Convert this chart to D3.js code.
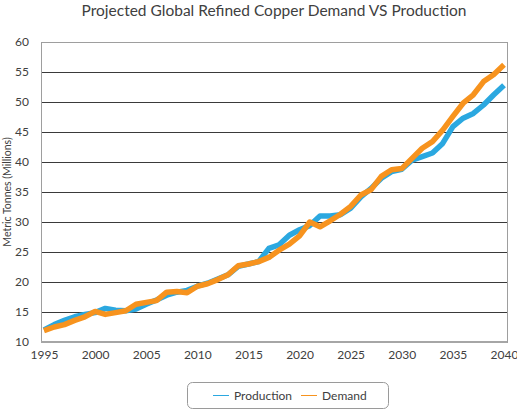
<!DOCTYPE html>
<html>
<head>
<meta charset="utf-8">
<script src="https://cdn.jsdelivr.net/npm/d3@7"></script>
<style>
  html, body { margin: 0; padding: 0; background: #fff; }
  svg { display: block; font-family: Lato, "Open Sans", sans-serif; }
</style>
</head>
<body>
<svg id="chart" width="517" height="410"></svg>
<script>
const years = d3.range(1995, 2041);
const production = [12.0, 12.9, 13.6, 14.2, 14.6, 14.9, 15.6, 15.3, 15.2, 15.5,
  16.3, 17.0, 17.8, 18.3, 18.6, 19.3, 19.8, 20.5, 21.2, 22.6,
  23.0, 23.4, 25.6, 26.2, 27.8, 28.7, 29.4, 31.0, 31.0, 31.2,
  32.3, 34.2, 35.6, 37.3, 38.4, 38.8, 40.3, 40.9, 41.5, 43.1,
  45.9, 47.3, 48.1, 49.5, 51.2, 52.8];
const demand = [11.9, 12.5, 12.9, 13.6, 14.2, 15.1, 14.6, 14.9, 15.2, 16.3,
  16.6, 16.9, 18.3, 18.4, 18.2, 19.3, 19.7, 20.4, 21.2, 22.7,
  23.0, 23.4, 24.1, 25.3, 26.3, 27.7, 30.0, 29.2, 30.2, 31.3,
  32.6, 34.5, 35.4, 37.6, 38.7, 38.9, 40.6, 42.3, 43.4, 45.3,
  47.6, 49.8, 51.2, 53.4, 54.6, 56.2];
const xTicks = [1995, 2000, 2005, 2010, 2015, 2020, 2025, 2030, 2035, 2040];
const yTicks = [10, 15, 20, 25, 30, 35, 40, 45, 50, 55, 60];
const seriesNames = ["Production", "Demand"];
const seriesColors = ["#2BA8E0", "#F7931E"];

const svg = d3.select("#chart");
const plot = { left: 41, right: 507, top: 42, bottom: 342 };

const x = d3.scaleLinear().domain([1995, 2040]).range([44, 504]);
const y = d3.scaleLinear().domain([10, 60]).range([plot.bottom, plot.top]);

// title
svg.append("text")
  .attr("x", 274).attr("y", 16)
  .attr("text-anchor", "middle")
  .attr("font-size", 15.5)
  .attr("fill", "#404040")
  .text("Projected Global Refined Copper Demand VS Production");

// gridlines
svg.append("g")
  .selectAll("line")
  .data(yTicks.filter(d => d > 10 && d < 60))
  .join("line")
  .attr("x1", plot.left).attr("x2", plot.right)
  .attr("y1", d => y(d)).attr("y2", d => y(d))
  .attr("stroke", "#3a3a3a").attr("stroke-width", 1)
  .attr("shape-rendering", "crispEdges");

// plot border
svg.append("rect")
  .attr("x", plot.left).attr("y", plot.top)
  .attr("width", plot.right - plot.left).attr("height", plot.bottom - plot.top)
  .attr("fill", "none").attr("stroke", "#9e9e9e").attr("stroke-width", 1)
  .attr("shape-rendering", "crispEdges");

// y axis
const yAxis = d3.axisLeft(y).tickValues(yTicks).tickSize(0).tickPadding(12);
const gy = svg.append("g").attr("transform", `translate(${plot.left},0)`).call(yAxis);
gy.select(".domain").attr("stroke", "#9e9e9e");
gy.selectAll("text").attr("font-size", 12).attr("fill", "#404040")
  .attr("font-family", "Lato, sans-serif");

// x axis
const xAxis = d3.axisBottom(x).tickValues(xTicks).tickFormat(d3.format("d")).tickSize(0).tickPadding(8);
const gx = svg.append("g").attr("transform", `translate(0,${plot.bottom})`).call(xAxis);
gx.select(".domain").attr("stroke", "#a6a6a6").attr("stroke-width", 2)
  .attr("d", `M${plot.left},0H${plot.right}`);
gx.selectAll("text").attr("font-size", 12).attr("fill", "#404040")
  .attr("font-family", "Lato, sans-serif");

// y axis title
svg.append("text")
  .attr("transform", `translate(11,${(plot.top + plot.bottom) / 2}) rotate(-90)`)
  .attr("text-anchor", "middle")
  .attr("font-size", 10.5)
  .attr("fill", "#404040")
  .text("Metric Tonnes (Millions)");

// lines
const line = d3.line().x((d, i) => x(years[i])).y(d => y(d));
[production, demand].forEach((s, k) => {
  svg.append("path")
    .datum(s)
    .attr("d", line)
    .attr("fill", "none")
    .attr("stroke", seriesColors[k])
    .attr("stroke-width", 5.5)
    .attr("stroke-linejoin", "round")
    .attr("stroke-linecap", "butt");
});

// legend
const lg = svg.append("g");
lg.append("rect")
  .attr("x", 187.5).attr("y", 382.5).attr("width", 201).attr("height", 26)
  .attr("rx", 5).attr("ry", 5)
  .attr("fill", "#fff").attr("stroke", "#9a9a9a").attr("stroke-width", 1);
const legX = [213, 301];
seriesNames.forEach((name, k) => {
  lg.append("line")
    .attr("x1", legX[k]).attr("x2", legX[k] + 16)
    .attr("y1", 395.5).attr("y2", 395.5)
    .attr("stroke", seriesColors[k]).attr("stroke-width", 1);
  lg.append("text")
    .attr("x", legX[k] + 21).attr("y", 399.5)
    .attr("font-size", 12).attr("fill", "#404040")
    .text(name);
});
</script>
</body>
</html>
